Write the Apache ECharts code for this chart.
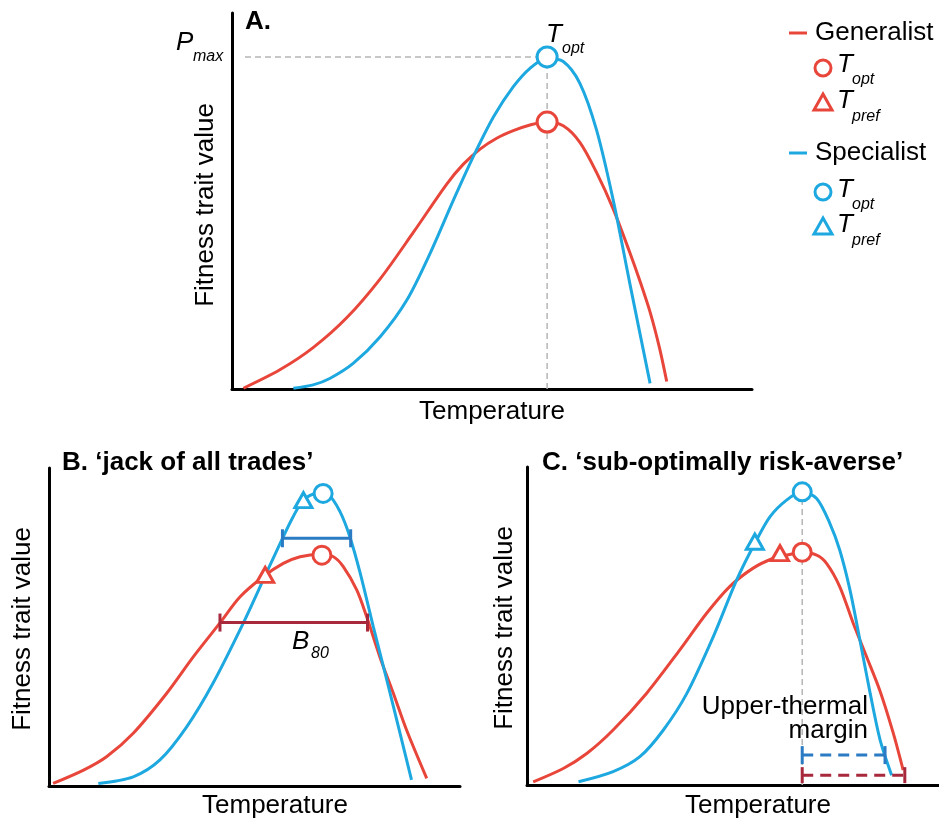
<!DOCTYPE html>
<html><head><meta charset="utf-8">
<script src="https://cdn.jsdelivr.net/npm/echarts@6/dist/echarts.min.js"></script>
<style>html,body{margin:0;padding:0;background:#fff}#c{width:939px;height:821px}</style>
</head><body><div id="c"></div>
<script>
// ---------- data (x: temperature 0-100, y: fitness 0-100, per panel) ----------
const genA = [[2.2,0.2],[9.2,5.1],[15.6,11.0],[22.1,19.0],[28.5,29.3],[34.9,41.7],[41.3,54.5],[44.5,59.8],[47.7,63.8],[50.9,66.7],[54.1,68.7],[57.3,70.2],[60.5,71.1],[63.7,70.0],[66.9,65.6],[70.1,57.6],[73.3,47.9],[76.5,36.3],[78.5,28.5],[80.5,20.0],[82.2,11.0],[83.6,2.0]];
const speA = [[11.8,0.2],[15.6,1.1],[18.8,2.8],[23.3,6.8],[28.5,13.9],[33.6,23.6],[38.1,36.1],[42.6,50.3],[46.4,61.8],[50.3,72.4],[54.1,80.4],[57.3,85.3],[60.5,87.9],[63.7,87.1],[66.9,81.3],[70.1,68.9],[73.3,50.3],[76.5,28.1],[80.4,1.5]];
const genB = [[1.0,0.8],[8.4,5.0],[14.0,9.2],[20.5,16.6],[28.6,29.1],[35.1,40.6],[41.6,51.3],[46.5,59.5],[52.1,65.8],[57.0,70.0],[61.1,72.1],[65.9,72.9],[69.2,72.1],[71.6,69.0],[74.9,61.6],[77.3,53.2],[80.5,40.6],[83.8,29.1],[87.0,17.6],[91.9,2.4]];
const speB = [[12.0,0.8],[20.5,2.9],[27.0,8.2],[33.5,18.6],[39.9,32.3],[47.3,51.3],[52.9,67.0],[57.0,78.4],[59.4,84.7],[61.9,89.9],[65.1,92.0],[68.0,91.5],[70.8,86.3],[73.2,78.4],[75.7,67.0],[78.9,50.1],[82.2,33.3],[85.4,16.6],[88.2,1.9]];
const genC = [[1.5,1.0],[8.8,5.2],[14.5,9.9],[20.9,17.3],[29.0,28.8],[37.1,42.5],[43.6,54.0],[49.2,62.4],[54.9,68.2],[59.8,71.3],[63.0,72.3],[66.8,73.0],[70.3,72.3],[72.7,69.7],[75.9,62.4],[79.2,50.8],[82.4,40.4],[85.7,29.5],[88.9,16.3],[91.3,4.7]];
const speC = [[12.5,1.0],[20.9,4.2],[27.4,8.9],[33.1,17.3],[38.8,28.8],[45.2,46.6],[50.9,64.5],[55.3,76.0],[59.0,84.4],[63.0,89.6],[66.8,92.2],[70.3,90.1],[73.5,82.3],[75.9,73.9],[78.4,61.3],[80.8,45.6],[83.3,28.8],[85.7,14.2],[88.5,3.1]];
// T_opt (circles) and T_pref (triangles)
const toptA = {gen:[60.6,71.0], spe:[60.6,88.3]};
const toptB = {gen:[66.4,72.6], spe:[66.7,92.0]};
const tprefB = {gen:[52.6,66.4], spe:[61.9,89.9]};
const toptC = {gen:[66.8,73.2], spe:[66.8,92.2]};
const tprefC = {gen:[61.4,72.9], spe:[55.3,76.5]};
// breadth (B80) bars in B, upper-thermal margins in C
const b80Gen = [[41.6,51.4],[77.5,51.4]];
const b80Spe = [[56.8,77.9],[73.4,77.9]];
const utmSpe = [[66.8,9.4],[86.9,9.4]];
const utmGen = [[66.8,3.1],[91.7,3.1]];
// guide lines
const pmaxLine = [[2.5,88.3],[60.6,88.3]];
const toptLineA = [[60.6,0],[60.6,88.3]];
const toptLineC = [[66.8,0],[66.8,92.2]];

// ---------- styles ----------
const RED = '#E8463A', BLUE = '#1DA8E0', DRED = '#A8283C', DBLUE = '#2A7BC4', GRAY = '#B5B5B5';
const FONT = 'Liberation Sans, Arial, sans-serif';

const grids = [
  {left:232, top:13, width:520, height:376},
  {left:49, top:468, width:411, height:318},
  {left:527, top:467, width:412, height:318}
];
function ax(i){ return {gridIndex:i, type:'value', min:0, max:100, axisLine:{show:true, onZero:false, lineStyle:{color:'#000', width:3}}, axisTick:{show:false}, axisLabel:{show:false}, splitLine:{show:false}}; }
function curve(i, data, color){ return {type:'line', xAxisIndex:i, yAxisIndex:i, data, smooth:0.3, showSymbol:false, symbol:'none', lineStyle:{color, width:3}, z:3, silent:true}; }
function guide(i, data){ return {type:'line', xAxisIndex:i, yAxisIndex:i, data, showSymbol:false, symbol:'none', lineStyle:{color:GRAY, width:1.5, type:[6,4]}, z:1, silent:true}; }
function bar(i, data, color, dashed, capH){ return {type:'line', xAxisIndex:i, yAxisIndex:i, data, showSymbol:true, symbol:'rect', symbolSize:[3,capH], itemStyle:{color}, lineStyle:{color, width:3, type: dashed ? [11,7] : 'solid'}, z:4, silent:true}; }
function mark(i, pts, symbol, color, size){ return {type:'scatter', xAxisIndex:i, yAxisIndex:i, data:pts, symbol, symbolSize:size, itemStyle:{color:'#fff', borderColor:color, borderWidth:3, opacity:1}, z:6, silent:true}; }

const series = [
  guide(0, pmaxLine), guide(0, toptLineA), guide(2, toptLineC),
  curve(0, genA, RED), curve(0, speA, BLUE),
  curve(1, genB, RED), curve(1, speB, BLUE),
  curve(2, genC, RED), curve(2, speC, BLUE),
  bar(1, b80Gen, DRED, false, 18), bar(1, b80Spe, DBLUE, false, 18),
  bar(2, utmSpe, DBLUE, true, 18), bar(2, utmGen, DRED, true, 16),
  mark(0, [toptA.gen], 'circle', RED, 20), mark(0, [toptA.spe], 'circle', BLUE, 20),
  mark(1, [toptB.gen], 'circle', RED, 18), mark(1, [toptB.spe], 'circle', BLUE, 18),
  mark(1, [tprefB.gen], 'triangle', RED, [17,15]), mark(1, [tprefB.spe], 'triangle', BLUE, [17,15]),
  mark(2, [toptC.gen], 'circle', RED, 18), mark(2, [toptC.spe], 'circle', BLUE, 18),
  mark(2, [tprefC.gen], 'triangle', RED, [17,15]), mark(2, [tprefC.spe], 'triangle', BLUE, [17,15])
];

function txt(x, y, text, size, opts){ return Object.assign({type:'text', x, y, silent:true, z:20, style:Object.assign({text, fill:'#000', font:(opts&&opts.font)||(size+'px '+FONT), textVerticalAlign:'middle', verticalAlign:'middle', textAlign:'left', align:'left'}, (opts&&opts.style)||{})}, (opts&&opts.el)||{}); }
function ital(x, y, text, size){ return txt(x, y, text, size, {font:'italic '+size+'px '+FONT}); }
function bold(x, y, text, size){ return txt(x, y, text, size, {font:'bold '+size+'px '+FONT}); }

const graphic = [
  // panel titles
  bold(245, 22, 'A.', 26),
  bold(62, 463, 'B. \u2018jack of all trades\u2019', 26),
  bold(542, 463, 'C. \u2018sub-optimally risk-averse\u2019', 26),
  // axis titles
  {type:'text', x:206, y:205, rotation:Math.PI/2, silent:true, style:{text:'Fitness trait value', font:'26px '+FONT, fill:'#000', align:'center', verticalAlign:'middle'}},
  {type:'text', x:23, y:629, rotation:Math.PI/2, silent:true, style:{text:'Fitness trait value', font:'26px '+FONT, fill:'#000', align:'center', verticalAlign:'middle'}},
  {type:'text', x:505, y:628, rotation:Math.PI/2, silent:true, style:{text:'Fitness trait value', font:'26px '+FONT, fill:'#000', align:'center', verticalAlign:'middle'}},
  {type:'text', x:492, y:412, silent:true, style:{text:'Temperature', font:'26px '+FONT, fill:'#000', align:'center', verticalAlign:'middle'}},
  {type:'text', x:275, y:806, silent:true, style:{text:'Temperature', font:'26px '+FONT, fill:'#000', align:'center', verticalAlign:'middle'}},
  {type:'text', x:758, y:806, silent:true, style:{text:'Temperature', font:'26px '+FONT, fill:'#000', align:'center', verticalAlign:'middle'}},
  // annotations A
  ital(176, 43, 'P', 26), ital(193, 57, 'max', 16),
  ital(546, 35, 'T', 26), ital(562, 49, 'opt', 16),
  // B80
  ital(292, 642, 'B', 26), ital(311, 654, '80', 16),
  // upper-thermal margin
  {type:'text', x:868, y:707, silent:true, z:20, style:{text:'Upper-thermal', font:'26px '+FONT, fill:'#000', align:'right', verticalAlign:'middle'}},
  {type:'text', x:868, y:731, silent:true, z:20, style:{text:'margin', font:'26px '+FONT, fill:'#000', align:'right', verticalAlign:'middle'}},
  // legend
  {type:'line', shape:{x1:789, y1:33, x2:807, y2:33}, style:{stroke:RED, lineWidth:3}, silent:true},
  txt(815, 33, 'Generalist', 26),
  {type:'circle', shape:{cx:823, cy:68, r:8}, style:{fill:'#fff', stroke:RED, lineWidth:3}, silent:true},
  ital(837, 65, 'T', 26), ital(852, 80, 'opt', 16),
  {type:'polygon', shape:{points:[[823,94],[832,110],[814,110]]}, style:{fill:'#fff', stroke:RED, lineWidth:3}, silent:true},
  ital(837, 101, 'T', 26), ital(852, 117, 'pref', 16),
  {type:'line', shape:{x1:789, y1:153, x2:807, y2:153}, style:{stroke:BLUE, lineWidth:3}, silent:true},
  txt(815, 153, 'Specialist', 26),
  {type:'circle', shape:{cx:823, cy:192, r:8}, style:{fill:'#fff', stroke:BLUE, lineWidth:3}, silent:true},
  ital(837, 190, 'T', 26), ital(852, 205, 'opt', 16),
  {type:'polygon', shape:{points:[[823,218],[832,234],[814,234]]}, style:{fill:'#fff', stroke:BLUE, lineWidth:3}, silent:true},
  ital(837, 225, 'T', 26), ital(852, 241, 'pref', 16)
];

const chart = echarts.init(document.getElementById('c'), null, {renderer:'canvas'});
chart.setOption({
  animation:false,
  backgroundColor:'#fff',
  grid: grids,
  xAxis: [ax(0), ax(1), ax(2)],
  yAxis: [ax(0), ax(1), ax(2)],
  series,
  graphic
});
</script></body></html>
